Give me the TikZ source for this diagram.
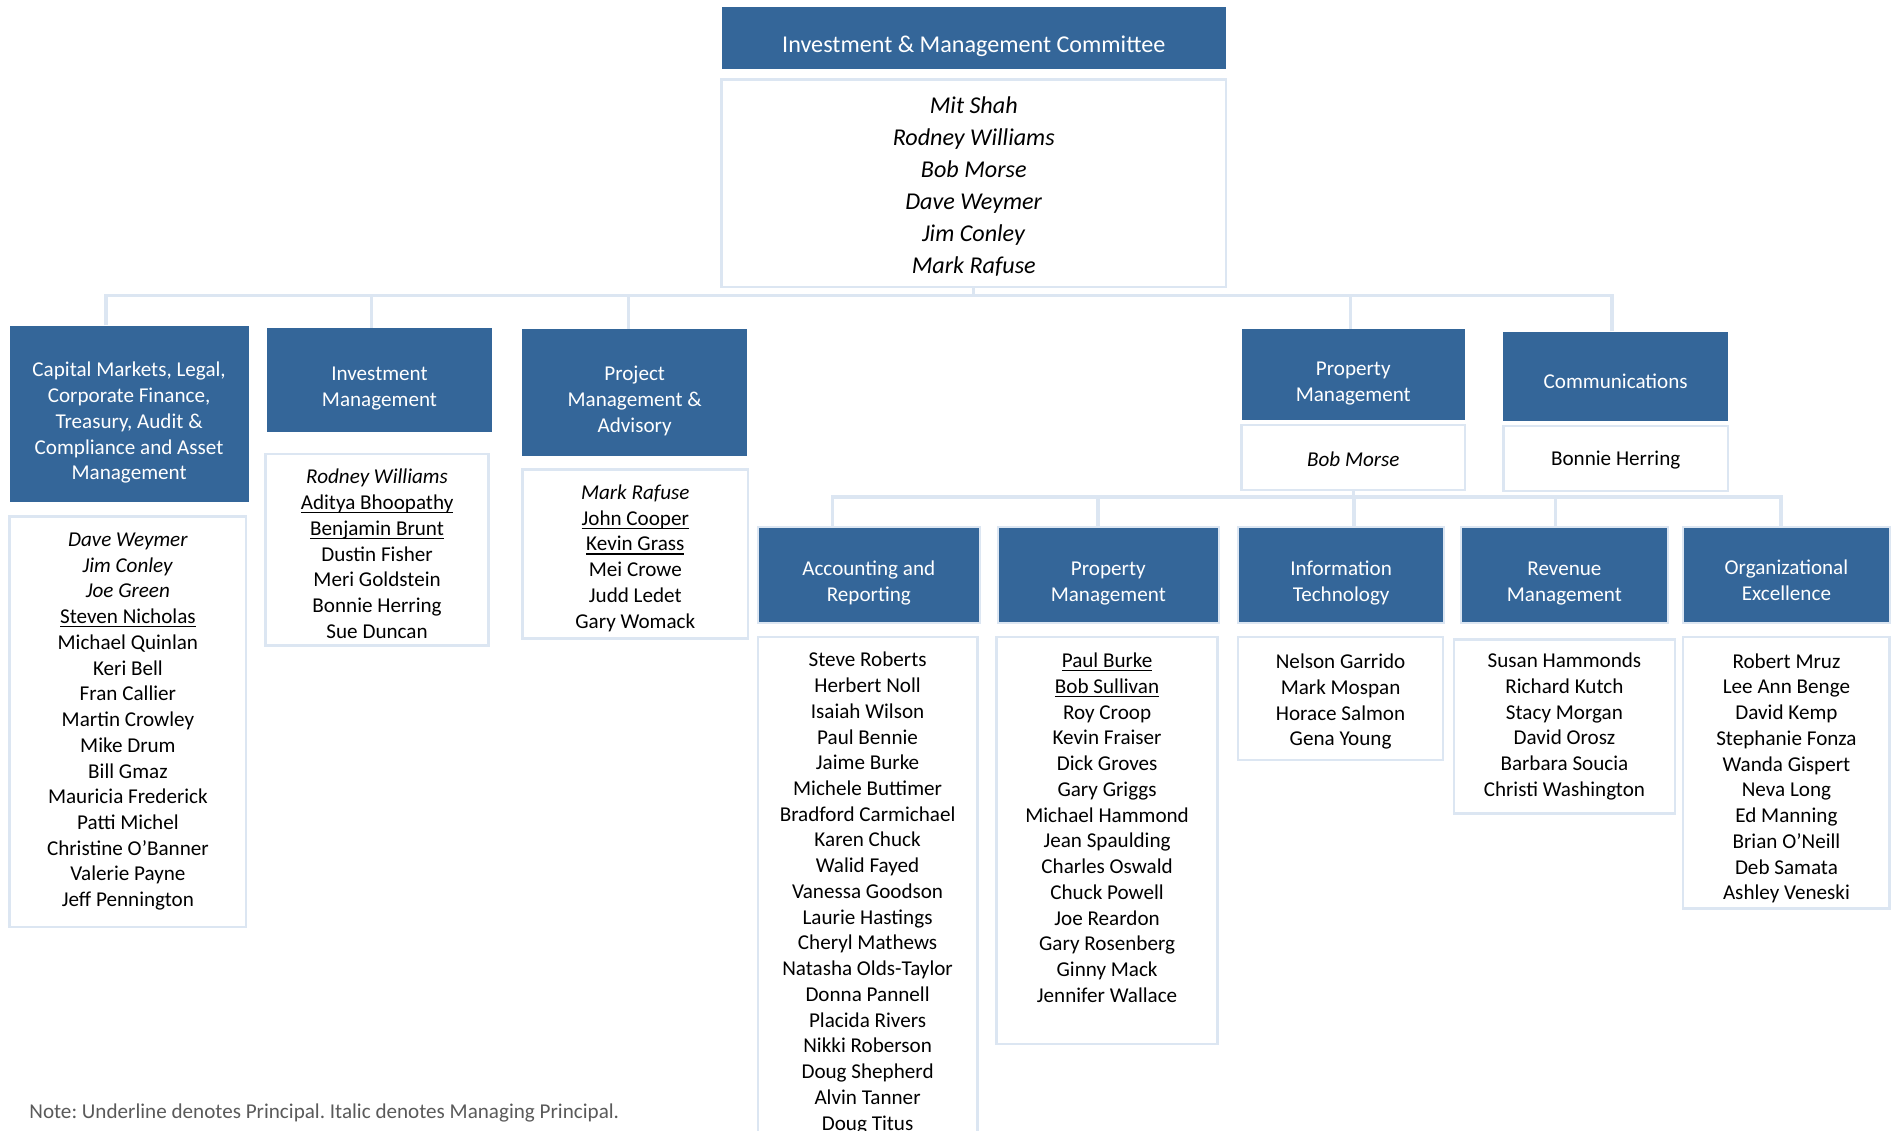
\documentclass[tikz,border=0pt]{standalone}
\usepackage{fontspec}
\setmainfont{Carlito}
\usetikzlibrary{calc}
\definecolor{deptblue}{RGB}{52,102,153}
\definecolor{linkblue}{RGB}{220,230,242}
\definecolor{notegray}{RGB}{90,90,90}
\newsavebox{\princbox}
\newcommand{\princ}[1]{\sbox{\princbox}{#1}\leavevmode\rlap{\vrule height -1.2pt depth 1.9pt width \wd\princbox}\usebox{\princbox}}
\newcommand{\lift}[1]{\rule{0pt}{#1}}

\begin{document}
\begin{tikzpicture}[
    x=0.6pt, y=-0.6pt,
    font=\fontsize{10.5}{12.8}\selectfont,
    deptbox/.style={fill=deptblue, text=white, inner sep=0pt, align=center},
    subdept/.style={deptbox, draw=linkblue, line width=1pt},
    namebox/.style={draw=linkblue, line width=1.2pt, fill=white, inner sep=0pt, align=center},
    bigtext/.style={font=\fontsize{12}{15.9}\selectfont},
    conn/.style={draw=linkblue, line width=1.7pt},
]
\path[use as bounding box, fill=white] (0,0) rectangle (1568,937);
\clip (0,0) rectangle (1568,937);

% === COMMITTEE ===
\node[deptbox, bigtext, minimum width=250.8pt, minimum height=30.6pt] (imc) at (807,31.5) {\lift{16.2pt}Investment \& Management Committee};
\node[namebox, bigtext, minimum width=250.8pt, minimum height=103.2pt] (imcnames) at (807,152) {\lift{11pt}\textit{Mit Shah}\\ \textit{Rodney Williams}\\ \textit{Bob Morse}\\ \textit{Dave Weymer}\\ \textit{Jim Conley}\\ \textit{Mark Rafuse}};

% === FIRST LEVEL ===
\node[deptbox, minimum width=118.8pt, minimum height=87.6pt] (capital) at (107,343) {\lift{16.3pt}Capital Markets, Legal,\\ Corporate Finance,\\ Treasury, Audit \&\\ Compliance and Asset\\ Management};
\node[namebox, minimum width=117.6pt, minimum height=204pt] (capitalnames) at (106,598) {\textit{Dave Weymer}\\ \textit{Jim Conley}\\ \textit{Joe Green}\\ \princ{Steven Nicholas}\\ Michael Quinlan\\ Keri Bell\\ Fran Callier\\ Martin Crowley\\ Mike Drum\\ Bill Gmaz\\ Mauricia Frederick\\ Patti Michel\\ Christine O’Banner\\ Valerie Payne\\ Jeff Pennington};

\node[deptbox, minimum width=112.2pt, minimum height=51.6pt] (invest) at (314.5,315) {\lift{15.3pt}Investment\\ Management};
\node[namebox, minimum width=111pt, minimum height=95.4pt] (investnames) at (312.5,455.5) {\lift{11.5pt}\textit{Rodney Williams}\\ \princ{Aditya Bhoopathy}\\ \princ{Benjamin Brunt}\\ Dustin Fisher\\ Meri Goldstein\\ Bonnie Herring\\ Sue Duncan};

\node[deptbox, minimum width=111.6pt, minimum height=63pt] (project) at (526,325.5) {\lift{15.3pt}Project\\ Management \&\\ Advisory};
\node[namebox, minimum width=112.2pt, minimum height=84pt] (projectnames) at (526.5,459) {\lift{11.5pt}\textit{Mark Rafuse}\\ \princ{John Cooper}\\ \princ{Kevin Grass}\\ Mei Crowe\\ Judd Ledet\\ Gary Womack};

\node[deptbox, minimum width=111pt, minimum height=45pt] (propmgmt) at (1121.5,310.5) {\lift{15.2pt}Property\\ Management};
\node[namebox, minimum width=111pt, minimum height=32.4pt] (propmgmtnames) at (1121.5,379) {\lift{9.1pt}\textit{Bob Morse}};

\node[deptbox, minimum width=111.6pt, minimum height=44.4pt] (comms) at (1339,312) {\lift{12pt}Communications};
\node[namebox, minimum width=111.6pt, minimum height=32.4pt] (commsnames) at (1339,380) {\lift{9.1pt}Bonnie Herring};

% Committee links
\coordinate (bus1) at (807,245);
\draw[conn] (imcnames.south) -- (bus1);
\draw[conn] ($(capital.north)+(-19,0)$) |- (bus1);
\draw[conn] ($(invest.north)+(-6.5,0)$) |- (bus1);
\draw[conn] ($(project.north)+(-5,0)$) |- (bus1);
\draw[conn] ($(propmgmt.north)+(-2.5,0)$) |- (bus1);
\draw[conn] ($(comms.north)+(-3,0)$) |- (bus1);

% === PROPERTY MANAGEMENT GROUPS ===
\node[subdept, minimum width=110.4pt, minimum height=47.4pt] (acct) at (720,476.5) {\lift{15pt}Accounting and\\ Reporting};
\node[namebox, minimum width=109.2pt, minimum height=254.4pt] (acctnames) at (719,740) {Steve Roberts\\ Herbert Noll\\ Isaiah Wilson\\ Paul Bennie\\ Jaime Burke\\ Michele Buttimer\\ Bradford Carmichael\\ Karen Chuck\\ Walid Fayed\\ Vanessa Goodson\\ Laurie Hastings\\ Cheryl Mathews\\ Natasha Olds-Taylor\\ Donna Pannell\\ Placida Rivers\\ Nikki Roberson\\ Doug Shepherd\\ Alvin Tanner\\ Doug Titus};

\node[subdept, minimum width=109.8pt, minimum height=47.4pt] (prop) at (918.5,476.5) {\lift{15pt}Property\\ Management};
\node[namebox, minimum width=109.8pt, minimum height=202.2pt] (propnames) at (917.5,696.5) {\princ{Paul Burke}\\ \princ{Bob Sullivan}\\ Roy Croop\\ Kevin Fraiser\\ Dick Groves\\ Gary Griggs\\ Michael Hammond\\ Jean Spaulding\\ Charles Oswald\\ Chuck Powell\\ Joe Reardon\\ Gary Rosenberg\\ Ginny Mack\\ Jennifer Wallace\\ ~};

\node[subdept, minimum width=102.6pt, minimum height=47.4pt] (it) at (1111.5,476.5) {\lift{15pt}Information\\ Technology};
\node[namebox, minimum width=102pt, minimum height=61.2pt] (itnames) at (1111,579) {\lift{10.3pt}Nelson Garrido\\ Mark Mospan\\ Horace Salmon\\ Gena Young};

\node[subdept, minimum width=102.6pt, minimum height=47.4pt] (rev) at (1296.5,476.5) {\lift{15pt}Revenue\\ Management};
\node[namebox, minimum width=109.8pt, minimum height=86.4pt] (revnames) at (1296.5,602) {Susan Hammonds\\ Richard Kutch\\ Stacy Morgan\\ David Orosz\\ Barbara Soucia\\ Christi Washington};

\node[subdept, minimum width=102.6pt, minimum height=47.4pt] (org) at (1480.5,476.5) {\lift{12.6pt}Organizational\\ Excellence};
\node[namebox, minimum width=102.6pt, minimum height=135pt] (orgnames) at (1480.5,640.5) {\lift{12.7pt}Robert Mruz\\ Lee Ann Benge\\ David Kemp\\ Stephanie Fonza\\ Wanda Gispert\\ Neva Long\\ Ed Manning\\ Brian O’Neill\\ Deb Samata\\ Ashley Veneski};

% Property management links
\coordinate (bus2) at (1121.5,412);
\draw[conn] (propmgmtnames.south) -- (bus2);
\draw[conn] ($(acct.north)+(-30,0)$) |- (bus2);
\draw[conn] ($(prop.north)+(-8.5,0)$) |- (bus2);
\draw[conn] ($(it.north)+(10.5,0)$) |- (bus2);
\draw[conn] ($(rev.north)+(-7.5,0)$) |- (bus2);
\draw[conn] ($(org.north)+(-4.5,0)$) |- (bus2);

% Note
\node[anchor=west, inner sep=0pt, text=notegray, font=\fontsize{10.5}{12.8}\selectfont\frenchspacing] (note) at (24,922) {Note: Underline denotes Principal. Italic denotes Managing Principal.};

\end{tikzpicture}
\end{document}
